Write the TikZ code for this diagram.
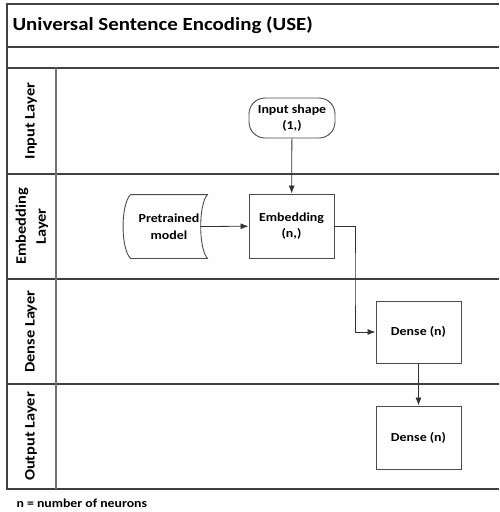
\documentclass[tikz,border=0pt]{standalone}
\usepackage{fontspec}
\setmainfont{Carlito}[FakeStretch=1.13]
\usepackage{tikz}
\usetikzlibrary{arrows.meta}
\usetikzlibrary{positioning}
\usetikzlibrary{calc}
\usetikzlibrary{math}
\tikzset{>={Latex[length=8pt,width=6pt]}}
\tikzset{
    lane/.style={draw=black!75, line width=1.2pt},
    box/.style={draw=black!70, line width=0.9pt, fill=white, align=center, font=\fontsize{12.3}{16.5}\selectfont\bfseries},
    terminal/.style={box, rounded corners=16pt},
    lanelabel/.style={rotate=90, align=center, font=\fontsize{14.5}{20}\selectfont\bfseries},
    flow/.style={->, draw=black!80, line width=0.8pt},
}

\begin{document}
\begin{tikzpicture}[x=1pt, y=-1pt]
	\useasboundingbox (0,0) rectangle (499,512);
	\tikzmath{\l = 7; \c = 56; \r = 499;}
	% frame and lanes
	\draw[lane] (\r,4) -- (\l,4) -- (\l,489) -- (\r,489);
	\draw[lane] (\l,47) -- (\r,47);
	\foreach \y in {68,174,279,384}
		\draw[lane] (\l,\y) -- (\r,\y);
	\draw[draw=black!55, line width=1.4pt] (\c,68) -- (\c,489);
	\node[anchor=west, font=\fontsize{18.5}{22}\selectfont\bfseries] (title) at (9,25) {Universal Sentence Encoding (USE)};

	\node[lanelabel] (l1) at (31,121) {Input Layer};
	\node[lanelabel] (l2) at (32,226.5) {Embedding\\Layer};
	\node[lanelabel] (l3) at (31,331.5) {Dense Layer};
	\node[lanelabel] (l4) at (31,436.5) {Output Layer};

	\node[terminal, minimum width=86pt, minimum height=40pt] (inp) at (292,118) {Input shape\\(1,)};
	\node[box, minimum width=85pt, minimum height=64pt] (emb) at (291.5,226) {Embedding\\(n,)};
	\node[box, draw=none, fill=none, minimum width=76pt, minimum height=63pt] (pre) at (169,226.5) {Pretrained\\model};
	\draw[draw=black!70, line width=0.9pt] (pre.north west) -- (pre.north east)
		.. controls ($(pre.north east)+(-9,10)$) and ($(pre.south east)+(-9,-10)$) .. (pre.south east)
		-- (pre.south west)
		.. controls ($(pre.south west)+(-10,-10)$) and ($(pre.north west)+(-10,10)$) .. (pre.north west);
	\node[box, minimum width=85pt, minimum height=62pt] (d1) at (418.5,332) {Dense (n)};
	\node[box, minimum width=85pt, minimum height=63pt] (d2) at (418.5,437.5) {Dense (n)};

	\draw[flow] (inp) -- (emb);
	\draw[flow] ($(pre.east)+(-7,0)$) -- (emb);
	\draw[flow] (emb.east) -| ($(emb.east)!0.5!(d1.west)+(0,0)$) |- (d1.west);
	\draw[flow] (d1) -- (d2);

	\node[anchor=west, font=\fontsize{12.2}{14}\selectfont\bfseries] (note) at (13,503) {n = number of neurons};
\end{tikzpicture}
\end{document}
